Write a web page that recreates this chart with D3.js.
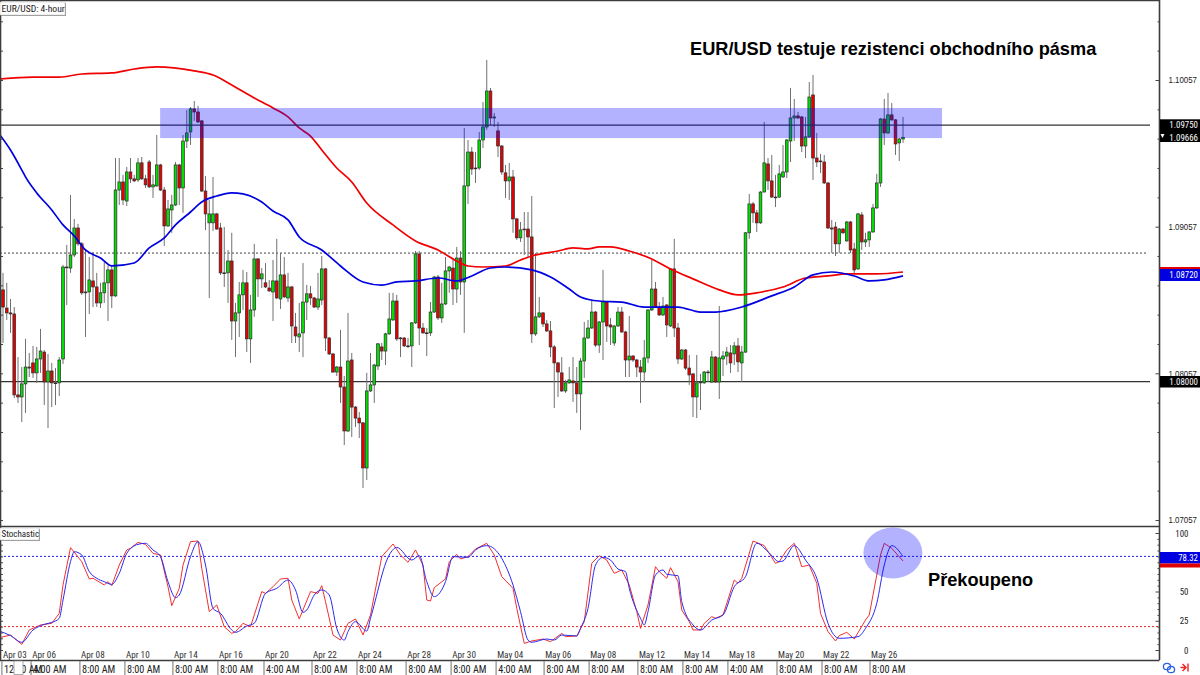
<!DOCTYPE html>
<html><head><meta charset="utf-8">
<script src="https://cdn.jsdelivr.net/npm/d3@7/dist/d3.min.js"></script>
<style>html,body{margin:0;padding:0;background:#fff;overflow:hidden}svg{display:block}
text{font-family:"Liberation Sans Narrow","Roboto Condensed","Liberation Sans",sans-serif}
.bold{font-family:"Liberation Sans",Arial,sans-serif;font-weight:700}
.tick text{font-family:"Liberation Sans Narrow","Liberation Sans",sans-serif}</style>
</head><body><svg id="c" width="1200" height="675"></svg>
<script>
const opens=[1.08626,1.08502,1.08469,1.08462,1.07910,1.07896,1.07985,1.08100,1.08128,1.08060,
1.08155,1.08202,1.07998,1.08073,1.07992,1.07992,1.08155,1.08782,1.08775,1.08864,
1.09048,1.08940,1.08606,1.08612,1.08687,1.08646,1.08537,1.08606,1.08674,1.08762,
1.08585,1.09307,1.09362,1.09232,1.09430,1.09383,1.09376,1.09492,1.09383,1.09498,
1.09328,1.09335,1.09478,1.09307,1.09062,1.09171,1.09205,1.09478,1.09321,1.09641,
1.09703,1.09860,1.09839,1.09778,1.09300,1.09083,1.09083,1.09144,1.09048,1.08742,
1.08742,1.08823,1.08414,1.08469,1.08592,1.08674,1.08292,1.08489,1.08837,1.08701,
1.08674,1.08639,1.08612,1.08687,1.08564,1.08728,1.08571,1.08646,1.08373,1.08305,
1.08333,1.08543,1.08599,1.08571,1.08509,1.08557,1.08769,1.08298,1.08189,1.08066,
1.08100,1.07964,1.07664,1.08148,1.07827,1.07752,1.07719,1.07412,1.07937,1.07978,
1.08107,1.08237,1.08209,1.08326,1.08421,1.08550,1.08298,1.08298,1.08244,1.08244,
1.08401,1.08871,1.08366,1.08333,1.08333,1.08475,1.08714,1.08435,1.08530,1.08755,
1.08775,1.08632,1.08843,1.08680,1.09335,1.09566,1.09457,1.09457,1.09648,1.09737,
1.09982,1.09798,1.09710,1.09607,1.09424,1.09369,1.09396,1.09110,1.08981,1.09041,
1.09041,1.08987,1.08326,1.08442,1.08469,1.08394,1.08346,1.08237,1.08128,1.08060,
1.07937,1.07992,1.08005,1.07992,1.07917,1.08141,1.08298,1.08366,1.08475,1.08250,
1.08407,1.08543,1.08387,1.08264,1.08380,1.08475,1.08339,1.08148,1.08175,1.08148,
1.08100,1.08066,1.08162,1.08489,1.08632,1.08509,1.08455,1.08523,1.08380,1.08769,
1.08366,1.08155,1.08216,1.08093,1.08053,1.07896,1.07992,1.07992,1.08066,1.07998,
1.08168,1.07998,1.08155,1.08175,1.08196,1.08189,1.08244,1.08128,1.08202,1.09015,
1.09212,1.09151,1.09083,1.09293,1.09485,1.09369,1.09259,1.09259,1.09396,1.09430,
1.09641,1.09798,1.09812,1.09805,1.09607,1.09669,1.09955,1.09525,1.09505,1.09498,
1.09355,1.09048,1.09055,1.08940,1.09041,1.08960,1.09089,1.08905,1.08769,1.09137,
1.08953,1.08967,1.09021,1.09185,1.09355,1.09791,1.09696,1.09819,1.09785,1.09628,
1.09655];
const closes=[1.08509,1.08469,1.08462,1.07910,1.07896,1.07985,1.08100,1.08093,1.08060,1.08155,
1.08209,1.07998,1.08073,1.07992,1.07988,1.08148,1.08782,1.08779,1.08864,1.09048,
1.08940,1.08606,1.08612,1.08694,1.08646,1.08537,1.08606,1.08674,1.08762,1.08585,
1.09307,1.09362,1.09239,1.09430,1.09383,1.09369,1.09492,1.09383,1.09342,1.09328,
1.09342,1.09478,1.09307,1.09062,1.09178,1.09205,1.09478,1.09321,1.09641,1.09696,
1.09860,1.09839,1.09771,1.09300,1.09144,1.09144,1.09144,1.09041,1.08742,1.08738,
1.08823,1.08414,1.08469,1.08592,1.08674,1.08292,1.08489,1.08837,1.08701,1.08735,
1.08646,1.08619,1.08687,1.08571,1.08728,1.08578,1.08646,1.08380,1.08312,1.08326,
1.08543,1.08599,1.08571,1.08509,1.08564,1.08769,1.08298,1.08189,1.08066,1.08100,
1.07964,1.07664,1.08141,1.07827,1.07752,1.07719,1.07412,1.07937,1.07978,1.08114,
1.08258,1.08209,1.08326,1.08428,1.08550,1.08292,1.08295,1.08244,1.08241,1.08401,
1.08871,1.08366,1.08333,1.08329,1.08475,1.08714,1.08435,1.08530,1.08755,1.08782,
1.08632,1.08843,1.08680,1.09335,1.09566,1.09450,1.09454,1.09648,1.09737,1.09982,
1.09798,1.09805,1.09607,1.09430,1.09369,1.09396,1.09110,1.08981,1.09035,1.09038,
1.08987,1.08326,1.08442,1.08469,1.08394,1.08346,1.08237,1.08128,1.08066,1.07937,
1.07992,1.08012,1.07992,1.07917,1.08141,1.08298,1.08366,1.08475,1.08250,1.08407,
1.08543,1.08380,1.08373,1.08380,1.08475,1.08339,1.08148,1.08175,1.08148,1.08100,
1.08066,1.08162,1.08489,1.08632,1.08509,1.08455,1.08516,1.08387,1.08769,1.08366,
1.08155,1.08216,1.08093,1.08046,1.07896,1.07992,1.07998,1.08066,1.08063,1.08168,
1.07998,1.08162,1.08175,1.08202,1.08128,1.08244,1.08135,1.08202,1.09015,1.09212,
1.09151,1.09083,1.09293,1.09492,1.09369,1.09259,1.09256,1.09417,1.09430,1.09648,
1.09798,1.09812,1.09798,1.09607,1.09669,1.09941,1.09525,1.09498,1.09502,1.09355,
1.09048,1.09041,1.08940,1.09041,1.09015,1.09089,1.08898,1.08762,1.09144,1.08953,
1.08967,1.09021,1.09185,1.09355,1.09791,1.09696,1.09819,1.09785,1.09621,1.09655,
1.09666];
const highs=[1.08742,1.08674,1.08564,1.08509,1.08168,1.08100,1.08292,1.08196,1.08244,1.08237,
1.08360,1.08216,1.08189,1.08128,1.08093,1.08168,1.08796,1.08933,1.09273,1.09110,
1.09076,1.08953,1.08898,1.08850,1.08884,1.08742,1.08674,1.08816,1.08796,1.08796,
1.09525,1.09525,1.09410,1.09464,1.09525,1.09410,1.09525,1.09532,1.09410,1.09512,
1.09410,1.09682,1.09485,1.09328,1.09239,1.09273,1.09498,1.09485,1.09682,1.09853,
1.09873,1.09914,1.09880,1.09785,1.09403,1.09239,1.09396,1.09151,1.09083,1.09055,
1.08898,1.09015,1.08537,1.08680,1.08762,1.08748,1.08592,1.08940,1.08843,1.08775,
1.08809,1.08694,1.08830,1.08974,1.08877,1.08850,1.08742,1.08653,1.08469,1.08537,
1.08809,1.08660,1.08653,1.08578,1.08742,1.08857,1.08775,1.08305,1.08196,1.08107,
1.08353,1.08039,1.08469,1.08196,1.07834,1.07793,1.07725,1.08060,1.08196,1.08121,
1.08264,1.08264,1.08333,1.08606,1.08606,1.08592,1.08305,1.08305,1.08298,1.08407,
1.08891,1.08891,1.08401,1.08366,1.08543,1.08721,1.08728,1.08674,1.08850,1.08789,
1.08830,1.08919,1.08891,1.09730,1.09648,1.09600,1.09566,1.09703,1.09907,1.10194,
1.10003,1.09832,1.09771,1.09614,1.09478,1.09492,1.09444,1.09117,1.09089,1.09157,
1.09157,1.09266,1.08877,1.08578,1.08475,1.08421,1.08414,1.08250,1.08135,1.08168,
1.08012,1.08100,1.08168,1.08100,1.08162,1.08407,1.08421,1.08557,1.08482,1.08414,
1.08762,1.08550,1.08435,1.08387,1.08509,1.08509,1.08346,1.08448,1.08182,1.08155,
1.08148,1.08285,1.08496,1.08830,1.08680,1.08543,1.08578,1.08530,1.08775,1.08974,
1.08401,1.08223,1.08223,1.08182,1.08060,1.08182,1.08053,1.08073,1.08080,1.08209,
1.08175,1.08516,1.08209,1.08237,1.08250,1.08271,1.08298,1.08244,1.09021,1.09280,
1.09225,1.09171,1.09300,1.09771,1.09525,1.09546,1.09410,1.09478,1.09614,1.09655,
1.10003,1.09928,1.09839,1.09812,1.09805,1.10043,1.10091,1.09696,1.09553,1.09546,
1.09362,1.09103,1.09089,1.09048,1.09048,1.09096,1.09096,1.08947,1.09151,1.09157,
1.09015,1.09028,1.09212,1.09417,1.09798,1.09928,1.09968,1.09900,1.09791,1.09662,
1.09805];
const lows=[1.08264,1.08421,1.08333,1.07889,1.07855,1.07725,1.07787,1.08032,1.08026,1.07992,
1.08060,1.07841,1.07684,1.07827,1.07841,1.07903,1.08121,1.08523,1.08742,1.08850,
1.08926,1.08592,1.08305,1.08462,1.08509,1.08509,1.08502,1.08537,1.08414,1.08502,
1.08578,1.09205,1.09205,1.09198,1.09355,1.09362,1.09362,1.09376,1.09321,1.09321,
1.09253,1.09328,1.09300,1.08926,1.09055,1.09015,1.09198,1.09205,1.09151,1.09593,
1.09614,1.09778,1.09764,1.09293,1.09035,1.08571,1.09028,1.09035,1.08728,1.08646,
1.08537,1.08285,1.08168,1.08305,1.08489,1.08202,1.08128,1.08442,1.08578,1.08639,
1.08639,1.08612,1.08414,1.08564,1.08496,1.08571,1.08543,1.08264,1.08264,1.08202,
1.08168,1.08421,1.08523,1.08502,1.08489,1.08523,1.08209,1.08182,1.08060,1.08039,
1.07855,1.07568,1.07657,1.07623,1.07691,1.07616,1.07275,1.07330,1.07930,1.07855,
1.08080,1.08148,1.08114,1.08319,1.08414,1.08278,1.08168,1.08237,1.08230,1.08100,
1.08394,1.08250,1.08326,1.08175,1.08312,1.08469,1.08421,1.08401,1.08523,1.08606,
1.08523,1.08537,1.08592,1.08333,1.09212,1.09410,1.09355,1.09444,1.09593,1.09717,
1.09750,1.09737,1.09532,1.09410,1.09253,1.09239,1.09015,1.08967,1.08953,1.08864,
1.08850,1.08264,1.08312,1.08435,1.08373,1.08339,1.08168,1.07820,1.07896,1.07930,
1.07924,1.07985,1.07862,1.07787,1.07671,1.08026,1.08292,1.08360,1.08237,1.08196,
1.08148,1.08271,1.08250,1.08244,1.08373,1.08333,1.08032,1.08032,1.08135,1.08032,
1.07855,1.07998,1.08128,1.08482,1.08502,1.08448,1.08448,1.08305,1.08373,1.08305,
1.08121,1.08148,1.08080,1.07978,1.07759,1.07752,1.07807,1.07985,1.07998,1.07992,
1.07992,1.07882,1.08039,1.08114,1.08060,1.08114,1.08066,1.07998,1.08196,1.08974,
1.09083,1.09021,1.09076,1.09293,1.09307,1.09253,1.09191,1.09253,1.09389,1.09389,
1.09498,1.09641,1.09791,1.09566,1.09525,1.09662,1.09376,1.09464,1.09423,1.09348,
1.09041,1.08877,1.08857,1.08877,1.09008,1.08953,1.08877,1.08735,1.08762,1.08898,
1.08919,1.08919,1.09015,1.09178,1.09328,1.09614,1.09689,1.09778,1.09546,1.09505,
1.09628];

const slowMaIdx=[-1,8,15,21,29,35,41,51,56,61,67,72,76,79,82,85,89,93,97,104,110,116,121,124,128,134,138,141,148,152,156,159,162,167,173,178,184,191,196,201,208,214,220,225,233,240];
const slowMa=[1.10064,1.10077,1.10077,1.10098,1.10105,1.10132,1.10146,1.10119,1.10091,1.10023,1.09934,1.09866,1.09805,1.09730,1.09675,1.09580,1.09457,1.09362,1.09218,1.09069,1.08960,1.08898,1.08823,1.08789,1.08782,1.08789,1.08830,1.08857,1.08891,1.08912,1.08905,1.08919,1.08919,1.08891,1.08837,1.08769,1.08701,1.08626,1.08592,1.08606,1.08646,1.08707,1.08721,1.08735,1.08735,1.08748];
const fastMaIdx=[-1,2,5,6,9,13,16,19,22,26,29,35,39,43,46,50,53,57,61,64,69,72,76,79,85,90,96,101,105,110,116,121,125,130,134,141,146,151,154,159,165,171,180,186,190,197,205,211,216,221,227,231,235,240];
const fastMa=[1.09689,1.09580,1.09444,1.09396,1.09287,1.09171,1.09069,1.08994,1.08898,1.08843,1.08789,1.08809,1.08912,1.08980,1.09069,1.09157,1.09225,1.09266,1.09287,1.09280,1.09225,1.09164,1.09103,1.08987,1.08898,1.08789,1.08680,1.08659,1.08680,1.08687,1.08707,1.08687,1.08721,1.08775,1.08782,1.08762,1.08714,1.08632,1.08578,1.08550,1.08543,1.08509,1.08509,1.08475,1.08475,1.08509,1.08585,1.08646,1.08728,1.08748,1.08721,1.08687,1.08694,1.08721];

const stochMainIdx=[-1,2,5,7,10,13,15,16,18,21,23,24,27,28,29,31,33,34,36,38,40,42,44,45,47,48,50,52,53,55,57,59,61,62,64,66,69,70,72,74,76,77,79,82,84,85,86,88,90,92,94,96,98,101,104,106,108,110,112,113,114,115,118,119,121,122,124,126,129,131,133,136,137,139,141,144,146,149,150,153,155,157,159,161,163,165,167,169,170,172,174,175,177,178,180,181,183,184,186,187,189,190,192,195,196,197,200,203,206,207,209,211,213,215,217,218,220,222,223,225,227,230,231,234,235,237,240];
const stochMain=[10.5,12.8,4.8,17.1,21.4,22.8,31.3,55.6,87.5,75.5,60.7,61.3,55.6,58.4,55,72.6,85.5,86.9,92,90.3,82.6,81.2,54.1,37.9,52.7,72.6,92.6,93.2,69.8,32.8,38.5,19.9,14.2,15.7,22.8,19.9,49.9,48.4,54.1,60.7,61.3,42.7,26.5,49.9,48.4,55,41.3,12.8,8.5,22.8,26.5,12.8,29.9,79.8,90.6,81.2,74.9,85.5,72.6,42.7,41.9,53.3,60.7,75.5,81.8,77.8,79.8,86.3,91.2,81.2,62.7,52.7,35.6,5.7,7.7,9.4,7.1,14.2,11.4,12,24.2,74.1,80.6,76.9,65.5,68.4,55.6,32.8,18.5,38.5,71.2,67,61.3,70.4,58.4,34.2,24.2,17.1,17.1,22.8,28.5,27.1,29.9,59.8,57,61.3,93.2,89.2,74.1,75.5,85.5,91.2,71.2,72.6,57,31.3,15.7,7.7,12.3,15.1,9.4,25.6,29.9,81.2,91.2,86.9,76.1];
const stochSignalIdx=[-1,2,5,8,11,13,15,16,18,19,21,23,25,27,29,31,33,36,38,40,42,44,46,47,50,52,54,56,58,61,62,65,67,70,73,76,78,80,81,83,85,87,89,91,92,94,97,98,103,105,109,111,113,115,118,120,124,126,129,133,136,138,140,141,145,147,149,153,154,156,158,160,162,164,166,167,170,171,172,174,176,177,180,181,184,186,189,192,195,198,201,204,207,208,211,214,217,220,223,228,230,233,235,237,240];
const stochSignal=[16.2,12.3,6.6,17.1,21.9,23.6,27.1,42.7,75.5,84,81.2,67,61.3,58.4,56.1,65.5,82.6,90.3,91.2,85.5,79.8,58.4,44.7,47,79.8,92.6,72.6,35.6,31.3,17.1,15.1,20.5,22.8,48.4,52.7,59.8,51.3,32.2,34.2,47,51.3,47,18.5,8.5,15.7,24.2,16.2,27.1,81.2,87.7,76.9,80.6,58.4,45.6,58.4,79.8,79.2,85.5,89.2,78.3,55.6,32.8,8.5,6.6,9.4,8.5,12.8,12,18.5,35.6,72.6,79.2,76.9,69.2,67,52.7,27.1,21.4,32.8,64.1,68.4,64.7,63.5,41.3,21.4,17.1,25.6,29.9,54.1,62.7,91.2,84,75.5,76.1,89.2,76.9,61.3,22.8,10,11.4,18.5,39.9,72.6,89.2,79.8];

const priceLabels=[1.10057,1.09057,1.08057,1.07057];
const priceMinor=[1.10457,1.10257,1.09857,1.09657,1.09457,1.09257,1.08857,1.08657,1.08457,1.08257,1.07857,1.07657,1.07457,1.07257];
const resistanceLine=1.09750, supportLine=1.08000, midLine=1.08877;
const zoneTop=1.09866, zoneBottom=1.09661, zoneStart=41.9, zoneEnd=250.4;
const stochLabels=[100,50,25,0];
const stochMinor=[95,90,85,80,75,70,65,60,55,45,40,35,30,20,15,10,5];
const stochLevels=[80,20];

const axisTickIdx=[-0.3,7.5,20.5,32.5,45.3,57.3,69.6,82.4,94.4,107.5,119.5,131.5,144.3,156.3,169.3,181.3,193.3,206.4,218.4,231.2];
const dateLabels=["Apr 03","Apr 06","Apr 08","Apr 10","Apr 14","Apr 16","Apr 20","Apr 22","Apr 24","Apr 28","Apr 30","May 04","May 06","May 08","May 12","May 14","May 18","May 20","May 22","May 26"];
const timeLabels=["12:00 AM","4:00 AM","8:00 AM","8:00 AM","8:00 AM","8:00 AM","4:00 AM","8:00 AM","8:00 AM","8:00 AM","8:00 AM","4:00 AM","8:00 AM","8:00 AM","8:00 AM","8:00 AM","4:00 AM","8:00 AM","8:00 AM","8:00 AM"];

const svg=d3.select("#c");
const x=d3.scaleLinear().domain([0,240]).range([3,903]);
const y=d3.scaleLinear().domain([1.07057,1.10057]).range([520,80]);
const s=d3.scaleLinear().domain([0,100]).range([650,533]);
const RIGHT=1159.5, BAND=d3.color("rgb(0,0,255)");

const clip=svg.append("clipPath").attr("id","plot");
clip.append("rect").attr("x",1).attr("y",1).attr("width",RIGHT-1).attr("height",525);
const clip2=svg.append("clipPath").attr("id","sub");
clip2.append("rect").attr("x",1).attr("y",527).attr("width",RIGHT-1).attr("height",133);
const main=svg.append("g").attr("clip-path","url(#plot)");
const sub=svg.append("g").attr("clip-path","url(#sub)");

// horizontal price levels
main.append("line").attr("x1",0).attr("x2",1150).attr("y1",y(supportLine)).attr("y2",y(supportLine)).attr("stroke","#333").attr("stroke-width",1.3);
main.append("line").attr("x1",0).attr("x2",1148).attr("y1",y(midLine)).attr("y2",y(midLine)).attr("stroke","#444").attr("stroke-width",1).attr("stroke-dasharray","2 2");

const maLine=d3.line().x(d=>x(d[0])).y(d=>y(d[1])).curve(d3.curveMonotoneX);

// candles
const idx=d3.range(opens.length);
main.append("g").selectAll("line").data(idx).join("line")
 .attr("x1",i=>x(i)).attr("x2",i=>x(i)).attr("y1",i=>y(highs[i])).attr("y2",i=>y(lows[i]))
 .attr("stroke","#707070").attr("stroke-width",1);
main.append("g").selectAll("rect").data(idx).join("rect")
 .attr("x",i=>x(i)-1.35).attr("width",2.7)
 .attr("y",i=>Math.min(y(opens[i]),y(closes[i])))
 .attr("height",i=>Math.max(0.8,Math.abs(y(opens[i])-y(closes[i]))))
 .attr("fill",i=>closes[i]>=opens[i]?"#00e000":"#e80000")
 .attr("stroke","#2a2a2a").attr("stroke-width",0.7);

main.append("path").attr("d",maLine(d3.zip(slowMaIdx,slowMa))).attr("fill","none").attr("stroke","#f00000").attr("stroke-width",1.7);
main.append("path").attr("d",maLine(d3.zip(fastMaIdx,fastMa))).attr("fill","none").attr("stroke","#0000e0").attr("stroke-width",1.7);

// resistance line & zone
main.append("line").attr("x1",0).attr("x2",1150).attr("y1",y(resistanceLine)).attr("y2",y(resistanceLine)).attr("stroke","#333").attr("stroke-width",1.3);
main.append("rect").attr("x",x(zoneStart)).attr("width",x(zoneEnd)-x(zoneStart)).attr("y",y(zoneTop)).attr("height",y(zoneBottom)-y(zoneTop)).attr("fill",BAND).attr("opacity",0.3);

// stochastic pane
sub.selectAll(".lvl").data(stochLevels).join("line").attr("class","lvl")
 .attr("x1",0).attr("x2",RIGHT).attr("y1",d=>s(d)).attr("y2",d=>s(d))
 .attr("stroke",d=>d===80?"#2020e8":"#e82020").attr("stroke-width",1).attr("stroke-dasharray","2 2");
const stMain=d3.line().x(d=>x(d[0])).y(d=>s(d[1]));
const stSignal=d3.line().x(d=>x(d[0])).y(d=>s(d[1])).curve(d3.curveMonotoneX);
sub.append("path").attr("d",stMain(d3.zip(stochMainIdx,stochMain))).attr("fill","none").attr("stroke","#f03030").attr("stroke-width",1);
sub.append("path").attr("d",stSignal(d3.zip(stochSignalIdx,stochSignal))).attr("fill","none").attr("stroke","#2a2af0").attr("stroke-width",1);
sub.append("ellipse").attr("cx",x(237.3)).attr("cy",s(82.9)).attr("rx",29.5).attr("ry",25.5).attr("fill",BAND).attr("opacity",0.3);

// frame
const frame=svg.append("g").attr("stroke","#3c3c3c").attr("fill","none");
frame.append("path").attr("d",`M0.5,660V0.5H${RIGHT}V660`).attr("stroke-width",1.6);
frame.append("path").attr("d",`M0,526.5H${RIGHT}M0,660.5H${RIGHT}`).attr("stroke-width",1.4);

// price axis
function cleanAxis(g){g.select(".domain").remove();g.selectAll("line").attr("stroke","#444");}
svg.append("g").attr("transform",`translate(${RIGHT},0)`).call(d3.axisLeft(y).tickValues(priceMinor).tickSize(2).tickFormat("")).call(cleanAxis);
svg.append("g").attr("transform",`translate(${RIGHT},0)`).call(d3.axisLeft(y).tickValues(priceLabels).tickSize(4).tickFormat("")).call(cleanAxis);
svg.append("g").attr("transform","translate(1,0)").call(d3.axisRight(y).tickValues(priceMinor.concat(priceLabels)).tickSize(2).tickFormat("")).call(cleanAxis);
svg.append("g").attr("transform",`translate(${RIGHT},0)`).call(d3.axisRight(y).tickValues(priceLabels).tickSize(0).tickPadding(9).tickFormat(d3.format(".5f")))
 .call(g=>g.select(".domain").remove()).call(g=>g.selectAll("text").attr("font-size",8.9).attr("fill","#222").attr("textLength",28.5).attr("lengthAdjust","spacingAndGlyphs"));

// stochastic axis
svg.append("g").attr("transform",`translate(${RIGHT},0)`).call(d3.axisLeft(s).tickValues(stochMinor).tickSize(2).tickFormat("")).call(cleanAxis);
svg.append("g").attr("transform",`translate(${RIGHT},0)`).call(d3.axisLeft(s).tickValues(stochLabels).tickSize(4).tickFormat("")).call(cleanAxis);
svg.append("g").attr("transform","translate(1,0)").call(d3.axisRight(s).tickValues(stochMinor.concat(stochLabels)).tickSize(2).tickFormat("")).call(cleanAxis);
svg.append("g").selectAll("text").data(stochLabels).join("text")
 .attr("x",1188.5).attr("y",d=>s(d)+3.5).attr("text-anchor","end").attr("font-size",8.9).attr("fill","#222").text(d=>d);

// price tags
function tag(y0,y1,fill){svg.append("rect").attr("x",RIGHT+0.5).attr("width",1200-RIGHT).attr("y",y0).attr("height",y1-y0).attr("fill",fill);}
function tagText(yy,t){svg.append("text").attr("x",1198).attr("y",yy+3.2).attr("text-anchor","end").attr("font-size",8.9).attr("fill","#fff").text(t);}
tag(119.3,142,"#000");tagText(y(resistanceLine),"1.09750");tagText(y(closes[240]),d3.format(".5f")(closes[240]));
svg.append("path").attr("d","M1160.5,134h4l-2,4z").attr("fill","#fff");
tag(267,269,"#e00000");tag(269,281,"#0000e0");tagText(275,"1.08720");
tag(376,387.5,"#000");tagText(y(supportLine),"1.08000");
tag(552,563.5,"#0000e0");tagText(557.5,"78.32");tag(563.5,567.5,"#e00000");

// x-axis strip
const strip=svg.append("g");
strip.selectAll("line").data(axisTickIdx).join("line").attr("x1",d=>x(d)).attr("x2",d=>x(d)).attr("y1",661).attr("y2",675).attr("stroke","#9a9a9a").attr("stroke-width",1.4);
strip.selectAll(".t").data(timeLabels).join("text").attr("class","t").attr("x",(d,i)=>x(axisTickIdx[i])+2).attr("y",673).attr("font-size",10.2).attr("fill","#222").text(d=>d);
strip.append("rect").attr("x",14).attr("y",661).attr("width",9).attr("height",13.5).attr("fill","#fff").attr("stroke","#888").attr("stroke-width",0.7);
svg.append("g").selectAll("text").data(dateLabels).join("text").attr("x",(d,i)=>x(axisTickIdx[i])+1).attr("y",658).attr("font-size",9.2).attr("fill","#333").text(d=>d);

// corner captions
function caption(x0,y0,w,h,t,fs){
 svg.append("rect").attr("x",x0+1).attr("y",y0+1).attr("width",w).attr("height",h).attr("fill","#999");
 svg.append("rect").attr("x",x0).attr("y",y0).attr("width",w).attr("height",h).attr("fill","#fff").attr("stroke","#bbb").attr("stroke-width",0.5);
 svg.append("text").attr("x",x0+1.5).attr("y",y0+h-3).attr("font-size",fs).attr("fill","#222").text(t);
}
caption(0,2,65,13,"EUR/USD: 4-hour",9.6);
caption(0,528,39,12,"Stochastic",9);

// annotations
svg.append("text").attr("class","bold").attr("x",690).attr("y",55).attr("font-size",18.2).attr("fill","#000").text("EUR/USD testuje rezistenci obchodního pásma");
svg.append("text").attr("class","bold").attr("x",928).attr("y",586).attr("font-size",18.2).attr("fill","#000").text("Překoupeno");

// bottom-right icons
const ic=svg.append("g").attr("fill","none").attr("stroke","#2a62e0").attr("stroke-width",1.3);
ic.append("ellipse").attr("cx",1167).attr("cy",666.5).attr("rx",3.6).attr("ry",3.2);
ic.append("ellipse").attr("cx",1171).attr("cy",669.5).attr("rx",3.6).attr("ry",3.2);
svg.append("path").attr("d","M1180.5,667.5h5M1182.5,664l3.5,3.5l-3.5,3.5M1188,663.5v8").attr("fill","none").attr("stroke","#f02020").attr("stroke-width",1.4);
</script></body></html>
